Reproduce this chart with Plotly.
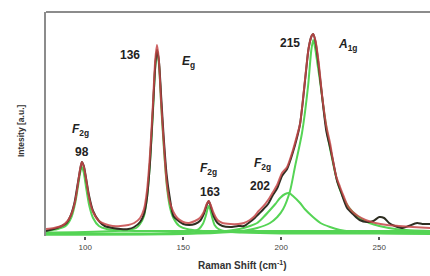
import plotly.graph_objects as go

# ---- experimental spectrum (black) ----
exp_shift = [80, 84, 88, 90.5, 92.5, 94.5, 96, 97.3, 98.3, 99.3, 100.5, 102, 104, 107, 110, 114, 118, 122,
             125, 128, 130, 131.5, 133, 134.5, 135.8, 136.6, 137.6, 138.8, 140, 141.5, 143, 145, 147, 150,
             153, 156, 158.5, 160.5, 162, 163, 164, 165.5, 167.5, 170, 174, 178, 181, 184, 186.5, 188.5,
             191, 193.3, 195.5, 198, 200.4, 203, 206, 208, 209.6, 211, 212.5, 214, 215.5, 216.3, 217.5,
             219, 221, 223, 225, 226.5, 228.5, 230.5, 233.6, 236.6, 240, 243.8, 247, 250, 252.5, 255, 258,
             262, 265, 269.3, 272, 276]
exp_int = [5, 7, 10, 13, 20, 33, 50, 65, 74, 70, 57, 40, 25, 15, 10, 8, 7, 7,
           9, 14, 22, 38, 72, 125, 172, 186, 175, 138, 100, 62, 40, 20, 16, 12,
           11, 12, 15, 22, 31, 35, 30, 20, 13, 10, 9, 10, 10, 14, 18, 22,
           27, 32, 40, 48, 60, 67, 84, 98, 112, 134, 162, 188, 200, 202, 194,
           172, 137, 105, 88, 74, 55, 44, 28, 22, 16, 14, 15, 19, 18, 13, 10,
           8, 10, 13, 12, 12]

# ---- cumulative fit (red) ----
fit_shift = [80, 84, 88, 91, 93, 95, 96.5, 97.5, 98.3, 99.2, 100.5, 102, 104, 107, 110, 114, 118, 122,
             125, 128, 130, 131.5, 133, 134.5, 135.7, 136.6, 137.5, 138.7, 140, 141.5, 143, 145, 147, 150,
             153, 156, 158.5, 160.5, 162, 163, 164, 165.5, 167.5, 170, 174, 178, 181, 184, 186.5, 188.5,
             191, 193.3, 195.5, 197.9, 200.4, 203, 206, 208, 209.6, 211, 212.5, 214, 215.5, 216.3, 217.5,
             219, 221, 223, 225, 226, 228, 230, 232, 234, 236.5, 239.2, 243, 248, 254, 260, 267, 276]
fit_int = [7, 8, 10, 15, 22, 36, 55, 68, 74, 70, 56, 38, 24, 15, 12, 10, 10, 11,
           13, 18, 27, 45, 80, 130, 175, 191, 178, 135, 95, 55, 35, 24, 18, 14,
           13, 15, 18, 24, 32, 35, 31, 23, 16, 13, 12, 12, 13, 16, 20, 25,
           30, 36, 43, 51, 63, 69, 86, 100, 112, 135, 163, 188, 200, 202, 195,
           175, 138, 110, 92, 80, 60, 49, 39, 30, 24, 20, 16, 13, 11, 10, 9, 8]

# ---- fitted components (green) ----
g98_shift = [80, 86, 90, 93, 95, 96.5, 97.5, 98.3, 99.2, 100.5, 102, 104, 107, 111, 118, 130, 160, 200, 276]
g98_int = [5, 7, 10, 19, 34, 52, 64, 69, 64, 48, 31, 18, 10, 7, 5.5, 5, 5, 5, 5]

g136_shift = [80, 100, 115, 122, 126, 128, 130, 131.5, 133, 134.5, 135.7, 136.7, 137.7, 138.9, 140.2,
              141.7, 143.2, 145, 148, 153, 160, 175, 200, 276]
g136_int = [3.5, 4, 5, 6, 8, 12, 20, 38, 72, 122, 168, 186, 170, 126, 86,
            49, 29, 18, 10, 6.5, 5, 4, 3.5, 3.5]

g163_shift = [80, 130, 150, 155, 158, 160, 161.5, 162.4, 163, 163.7, 164.7, 166, 168, 172, 180, 200, 276]
g163_int = [2.5, 2.5, 3.5, 4.5, 7, 12, 20, 27, 30, 27, 19, 11, 7, 4.5, 3.5, 2.5, 2.5]

g202_shift = [80, 150, 170, 180, 184, 187.7, 191, 194.3, 197, 199.4, 202, 204, 206, 209.6, 212, 216.2,
              220, 224.9, 230, 235, 250, 276]
g202_int = [1.5, 2.5, 4.5, 7.5, 10, 13, 19, 26, 32, 38, 42, 43, 40, 33, 27, 19,
            13, 9, 6, 4.5, 3, 2]

g215_shift = [80, 150, 175, 180, 187.7, 194.3, 198, 201, 204.5, 207, 210.6, 213.7, 215.3, 216.3, 217.3,
              218.5, 220, 222, 224, 226, 228, 230, 233, 236, 240, 245, 250, 260, 276]
g215_int = [1.5, 2, 4, 5, 8, 13, 19, 27, 45, 69, 103, 150, 185, 196, 188,
            172, 152, 122, 97, 77, 59, 46, 33, 25, 18, 13, 10, 6.5, 5]

tick_vals = [100, 150, 200, 250]
tick_text = ["100", "150", "200", "250"]

# peak labels
peak_label_x = [97.4, 98.4, 122.9, 152.5, 162.7, 163.7, 190.2, 189.2, 204.5, 233.6]
peak_label_y = [106, 84, 181, 174, 67, 44, 72, 50, 193, 191]
peak_label_text = ["<i>F</i><sub>2g</sub>", "98", "136", "<i>E</i><sub>g</sub>",
                   "<i>F</i><sub>2g</sub>", "163", "<i>F</i><sub>2g</sub>", "202",
                   "215", "<i>A</i><sub>1g</sub>"]

fig = go.Figure()

green = "#55d455"
for xs, ys in [(g98_shift, g98_int), (g136_shift, g136_int), (g163_shift, g163_int),
               (g202_shift, g202_int), (g215_shift, g215_int)]:
    fig.add_trace(go.Scatter(x=xs, y=ys, mode="lines",
                             line=dict(color=green, width=2, shape="spline", smoothing=0.7),
                             hoverinfo="skip", showlegend=False))

fig.add_trace(go.Scatter(x=exp_shift, y=exp_int, mode="lines",
                         line=dict(color="#2e2e22", width=2, shape="spline", smoothing=0.7),
                         showlegend=False))
fig.add_trace(go.Scatter(x=fit_shift, y=fit_int, mode="lines",
                         line=dict(color="rgba(196,70,72,0.85)", width=2, shape="spline", smoothing=0.7),
                         showlegend=False))

for x, y, t in zip(peak_label_x, peak_label_y, peak_label_text):
    fig.add_annotation(x=x, y=y, text="<b>" + t + "</b>", showarrow=False,
                       font=dict(family="Liberation Sans, Arial, sans-serif", size=12, color="#222"))

fig.add_annotation(xref="paper", yref="paper", x=-0.085, y=0.47, text="<b>Intesity [a.u.]</b>",
                   textangle=-90, showarrow=False,
                   font=dict(family="Liberation Sans, Arial, sans-serif", size=8.5, color="#333"))
fig.add_annotation(xref="paper", yref="paper", x=0.51, y=-0.13, yanchor="middle",
                   text="<b>Raman Shift (cm<sup>-1</sup>)</b>", showarrow=False,
                   font=dict(family="Liberation Sans, Arial, sans-serif", size=10, color="#333"))

# frame: top line
fig.add_shape(type="line", xref="paper", yref="paper", x0=0, x1=1, y0=1, y1=1,
              line=dict(color="#8c8c8c", width=2))

fig.update_layout(
    width=430, height=276,
    margin=dict(l=46, r=0, t=12, b=40),
    paper_bgcolor="white", plot_bgcolor="white",
    xaxis=dict(range=[80, 275.9], tickvals=tick_vals, ticktext=tick_text,
               ticks="outside", ticklen=3, tickcolor="#555", tickwidth=1.5,
               ticklabelstandoff=0,
               showline=False, showgrid=False, zeroline=False,
               tickfont=dict(family="Liberation Sans, Arial, sans-serif", size=8, color="#444")),
    yaxis=dict(range=[0, 224], showticklabels=False, ticks="", showgrid=False, zeroline=False,
               showline=True, linecolor="#8c8c8c", linewidth=2),
)

fig.write_html("out.html", config={"displayModeBar": False},
               post_script="document.body.style.margin='0';document.body.style.padding='0';"
                           "document.documentElement.style.overflow='hidden';")
